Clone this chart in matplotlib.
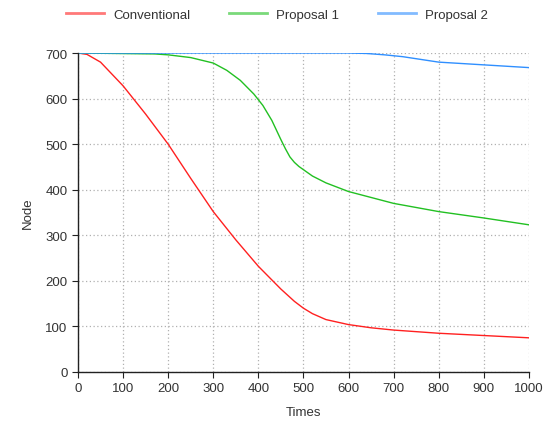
import matplotlib
matplotlib.use("Agg")
import matplotlib.pyplot as plt

plt.rcParams['font.family'] = ['Liberation Sans', 'DejaVu Sans']

times_conv = [0, 20, 50, 100, 150, 200, 250, 300, 350, 400, 450, 480, 500, 520, 550, 600, 650, 700, 800, 900, 1000]
conventional = [700, 697, 680, 628, 566, 500, 425, 352, 290, 232, 182, 155, 140, 128, 115, 104, 97, 92, 85, 80, 75]

times_p1 = [0, 170, 200, 250, 300, 330, 360, 390, 410, 430, 450, 460, 470, 480, 490, 500, 520, 550, 600, 700, 800, 900, 1000]
proposal1 = [700, 698, 696, 690, 678, 662, 640, 610, 585, 552, 510, 490, 472, 460, 451, 444, 430, 415, 396, 370, 352, 338, 323]

times_p2 = [0, 600, 640, 680, 720, 760, 800, 850, 900, 950, 1000]
proposal2 = [700, 700, 699, 696, 692, 686, 680, 677, 674, 671, 668]

fig = plt.figure(figsize=(5.43, 4.27), dpi=100)
ax = fig.add_axes([0.1436, 0.1265, 0.8304, 0.747])

ax.plot(times_conv, conventional, color='#ff2020', lw=1.0, label='Conventional')
ax.plot(times_p1, proposal1, color='#22c022', lw=1.0, label='Proposal 1')
ax.plot(times_p2, proposal2, color='#2f8fff', lw=1.0, label='Proposal 2')

ax.set_xlim(0, 1000)
ax.set_ylim(0, 700)
ax.set_xticks(range(0, 1001, 100))
ax.set_yticks(range(0, 701, 100))
ax.grid(True, color='#b0b0b0', linestyle=(0, (1, 2)), linewidth=0.9)
for s in ['top', 'right']:
    ax.spines[s].set_visible(False)
for s in ['left', 'bottom']:
    ax.spines[s].set_color('#222222')
    ax.spines[s].set_linewidth(1.0)
ax.tick_params(axis='both', length=4, width=0.8, colors='#222222', labelsize=9.5, labelcolor='#333333')
ax.set_xlabel('Times', fontsize=9.5, color='#333333', labelpad=8)
ax.set_ylabel('Node', fontsize=9.5, color='#333333', labelpad=8)

leg = fig.legend(loc='upper center', bbox_to_anchor=(0.51, 1.005), ncol=3, frameon=False,
                 fontsize=9.5, handlelength=2.9, columnspacing=2.9, handletextpad=0.7)
for t in leg.get_texts():
    t.set_color('#333333')
for l in leg.get_lines():
    l.set_alpha(0.6)
    l.set_linewidth(2.0)

fig.savefig('out.png', dpi=100)
